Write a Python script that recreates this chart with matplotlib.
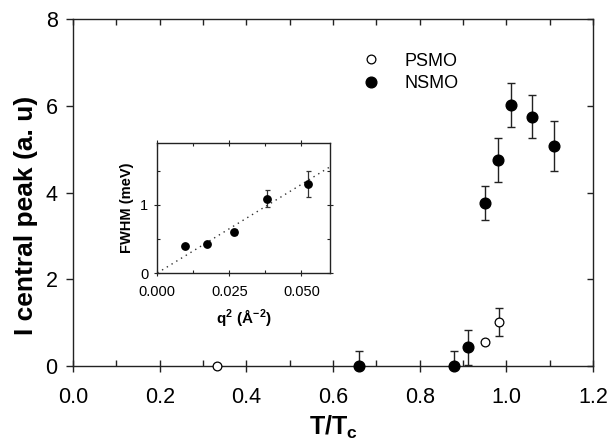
import matplotlib
matplotlib.use('Agg')
import matplotlib.pyplot as plt
from matplotlib.ticker import MultipleLocator, FixedLocator, FormatStrFormatter
from matplotlib import lines as mlines
import numpy as np

plt.rcParams['font.family'] = ['Liberation Sans', 'DejaVu Sans']
plt.rcParams['mathtext.fontset'] = 'custom'
plt.rcParams['mathtext.rm'] = 'Liberation Sans'
plt.rcParams['mathtext.bf'] = 'Liberation Sans:bold'

# Данные: основной график (NSMO — закрашенные, PSMO — пустые)
nsmo_t = [0.661, 0.880, 0.912, 0.951, 0.980, 1.010, 1.060, 1.111]
nsmo_i = [0.0, 0.0, 0.43, 3.76, 4.75, 6.02, 5.75, 5.07]
nsmo_err = [0.35, 0.35, 0.40, 0.40, 0.50, 0.50, 0.49, 0.57]

psmo_t = [0.332, 0.951, 0.982]
psmo_i = [0.0, 0.55, 1.02]
psmo_err = [0.0, 0.0, 0.32]

# Данные: вставка (FWHM от q^2)
q2 = [0.0096, 0.0172, 0.0267, 0.0382, 0.0521]
fwhm = [0.39, 0.43, 0.60, 1.09, 1.30]
fwhm_err = [0.0, 0.0, 0.05, 0.12, 0.19]
fit_q2 = [0.0, 0.06]
fit_slope = 26.0

fig = plt.figure(figsize=(6.09, 4.45), dpi=100)
ax = fig.add_axes([0.1199, 0.1775, 0.8539, 0.7798])

spine_col = '#222222'
for s in ax.spines.values():
    s.set_color(spine_col)
    s.set_linewidth(1.0)

# Планки погрешностей (обрезаются осью), маркеры поверх без обрезки
ax.errorbar(nsmo_t, nsmo_i, yerr=nsmo_err, fmt='none', ecolor='#222222',
            elinewidth=1.0, capsize=2.6, capthick=1.0)
ax.errorbar(psmo_t, psmo_i, yerr=psmo_err, fmt='none', ecolor='#222222',
            elinewidth=1.0, capsize=2.6, capthick=1.0)
h_p, = ax.plot(psmo_t, psmo_i, 'o', ms=6.3, mfc='white', mec='black',
               mew=0.9, ls='none', clip_on=False, zorder=5, label='PSMO')
h_n, = ax.plot(nsmo_t, nsmo_i, 'o', ms=7.7, mfc='black', mec='black',
               ls='none', clip_on=False, zorder=5, label='NSMO')

ax.set_xlim(0, 1.2)
ax.set_ylim(0, 8)
ax.xaxis.set_major_locator(MultipleLocator(0.2))
ax.xaxis.set_minor_locator(MultipleLocator(0.1))
ax.yaxis.set_major_locator(MultipleLocator(2))
ax.xaxis.set_major_formatter(FormatStrFormatter('%.1f'))

ax.tick_params(axis='x', which='major', direction='inout', length=8, width=1,
               labelsize=15.5, pad=11, color=spine_col, top=True)
ax.tick_params(axis='x', which='minor', direction='in', length=4, width=1,
               color=spine_col, top=True)
ax.tick_params(axis='y', which='major', direction='in', length=4, width=1,
               labelsize=15.5, pad=11, color=spine_col, right=True)
# сверху тики внутрь, слева наружу
for t in ax.xaxis.get_major_ticks():
    t.tick2line.set_marker(mlines.TICKDOWN)
    t.tick2line.set_markersize(4)
for t in ax.yaxis.get_major_ticks():
    t.tick1line.set_marker(mlines.TICKLEFT)
    t.tick1line.set_markersize(5)

ax.set_xlabel(r'$\mathbf{T/T_c}$', fontsize=18, labelpad=4)
ax.set_ylabel('I central peak (a. u)', fontsize=19, fontweight='bold')
ax.yaxis.set_label_coords(-0.068, 0.435)

ax.legend(handles=[h_p, h_n], loc='upper left', bbox_to_anchor=(0.555, 0.903),
          frameon=False, fontsize=13, borderpad=0, borderaxespad=0,
          handlelength=1.0, handletextpad=1.35, labelspacing=0.3)

# Вставка
axin = fig.add_axes([0.2583, 0.3865, 0.2841, 0.2912])
for s in axin.spines.values():
    s.set_color(spine_col)
    s.set_linewidth(1.0)
fit_x = np.array(fit_q2)
axin.plot(fit_x, fit_slope * fit_x, color='#333333', lw=1.0,
          ls=(0, (1, 3)))
axin.errorbar(q2, fwhm, yerr=fwhm_err, fmt='o', ms=5.3, color='black',
              ecolor='#333333', elinewidth=0.9, capsize=1.8, capthick=0.9)
axin.set_xlim(0, 0.06)
axin.set_ylim(0, 1.9)
axin.xaxis.set_major_locator(FixedLocator([0.0, 0.025, 0.05]))
axin.xaxis.set_minor_locator(MultipleLocator(0.0125))
axin.yaxis.set_major_locator(FixedLocator([0, 1]))
axin.yaxis.set_minor_locator(FixedLocator([0.5, 1.5]))
axin.xaxis.set_major_formatter(FormatStrFormatter('%.3f'))
axin.tick_params(which='major', direction='inout', length=5, width=0.8,
                 labelsize=10.5, color=spine_col, top=True, right=True)
axin.tick_params(which='minor', direction='in', length=2.5, width=0.8,
                 color=spine_col, top=True, right=True)
axin.tick_params(axis='x', pad=6)
axin.tick_params(axis='y', pad=4)
axin.set_xlabel(r'$\mathbf{q^2\ (\AA^{-2})}$', fontsize=11, labelpad=6)
axin.set_ylabel('FWHM (meV)', fontsize=10.5, fontweight='bold', labelpad=4)

plt.savefig('out.png', dpi=100)
